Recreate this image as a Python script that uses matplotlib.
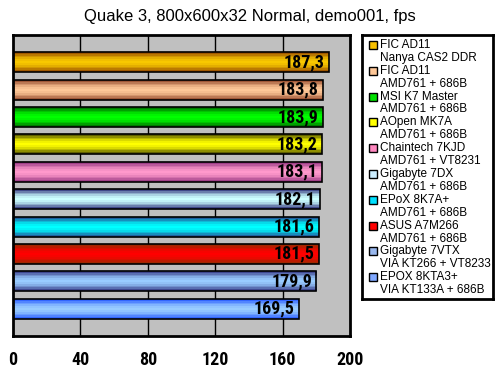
import matplotlib
matplotlib.use("Agg")
import matplotlib.pyplot as plt
import numpy as np
from matplotlib.colors import to_rgb

boards = ["FIC AD11", "FIC AD11", "MSI K7 Master", "AOpen MK7A", "Chaintech 7KJD",
          "Gigabyte 7DX", "EPoX 8K7A+", "ASUS A7M266", "Gigabyte 7VTX", "EPOX 8KTA3+"]
chipsets = ["Nanya CAS2 DDR", "AMD761 + 686B", "AMD761 + 686B", "AMD761 + 686B",
            "AMD761 + VT8231", "AMD761 + 686B", "AMD761 + 686B", "AMD761 + 686B",
            "VIA KT266 + VT8233", "VIA KT133A + 686B"]
fps = [187.3, 183.8, 183.9, 183.2, 183.1, 182.1, 181.6, 181.5, 179.9, 169.5]
labels = ["187,3", "183,8", "183,9", "183,2", "183,1", "182,1", "181,6", "181,5", "179,9", "169,5"]
centre_colors = ["#F8C800", "#FFC898", "#00FF00", "#FFFF00", "#FF99CC",
                 "#CCFFFF", "#00FFFF", "#FF0000", "#99CCFF", "#99CCFF"]
edge_colors = ["#A05800", "#A05838", "#007800", "#606000", "#A04088",
               "#404888", "#2060A0", "#A02800", "#404890", "#3366FF"]
legend_colors = ["#F8C000", "#FFC898", "#00E000", "#FFFF00", "#FF88C0",
                 "#CCEEFF", "#00E0FF", "#FF0000", "#99B8EE", "#80A8FF"]
xticks = [0, 40, 80, 120, 160, 200]

narrow = "Roboto Condensed"

W, H = 503, 375
fig = plt.figure(figsize=(W / 100, H / 100), dpi=100)
fig.patch.set_facecolor("white")

ax = fig.add_axes([13 / W, 1 - 336 / H, 337 / W, 301 / H])
ax.set_facecolor("#C0C0C0")
for s in ax.spines.values():
    s.set_linewidth(2)
for t in xticks[1:-1]:
    ax.axvline(t, color="black", lw=1, zorder=1)

bar_h = 0.73
n = len(fps)
for i, v in enumerate(fps):
    y = n - 1 - i
    c1 = np.array(to_rgb(centre_colors[i]))
    c0 = np.array(to_rgb(edge_colors[i]))
    steps = 11
    prof = np.abs(np.linspace(-1, 1, steps)) ** 1.6
    img = (c1[None, :] * (1 - prof[:, None]) + c0[None, :] * prof[:, None])[:, None, :]
    ax.imshow(img, extent=[0, v, y - bar_h / 2, y + bar_h / 2], aspect="auto",
              interpolation="nearest", zorder=2)
    ax.add_patch(plt.Rectangle((0, y - bar_h / 2), v, bar_h, fill=False,
                               ec="black", lw=1.2, zorder=3))
    ax.annotate(labels[i], (v, y), xytext=(-3, 0), textcoords="offset points",
                ha="right", va="center", fontsize=13, fontweight="bold",
                family=narrow, zorder=4)

ax.set_xlim(0, 200)
ax.set_ylim(-1, n)
ax.set_yticks([])
ax.set_xticks(xticks)
ax.set_xticklabels([str(t) for t in xticks], fontsize=13, fontweight="bold", family=narrow)
ax.tick_params(axis="x", length=0, pad=11)

fig.text(250 / W, 1 - 16 / H, "Quake 3, 800x600x32 Normal, demo001, fps",
         ha="center", va="center", fontsize=12, family="Liberation Sans")

# legend box
lax = fig.add_axes([362 / W, 1 - 299 / H, 131 / W, 264 / H])
lax.set_xticks([])
lax.set_yticks([])
lax.set_facecolor("white")
for s in lax.spines.values():
    s.set_linewidth(2)

for i in range(n):
    y1 = 45 + i * 2 * 12.9
    y2 = y1 + 12.9
    fig.patches.append(plt.Rectangle((369 / W, 1 - (y1 + 4) / H), 8 / W, 8 / H,
                                     transform=fig.transFigure, fc=legend_colors[i],
                                     ec="black", lw=1, figure=fig))
    fig.text(380 / W, 1 - y1 / H, boards[i], ha="left", va="center",
             fontsize=8.5, family="Liberation Sans")
    fig.text(380 / W, 1 - y2 / H, chipsets[i], ha="left", va="center",
             fontsize=8.5, family="Liberation Sans")

fig.savefig("out.png", dpi=100)
